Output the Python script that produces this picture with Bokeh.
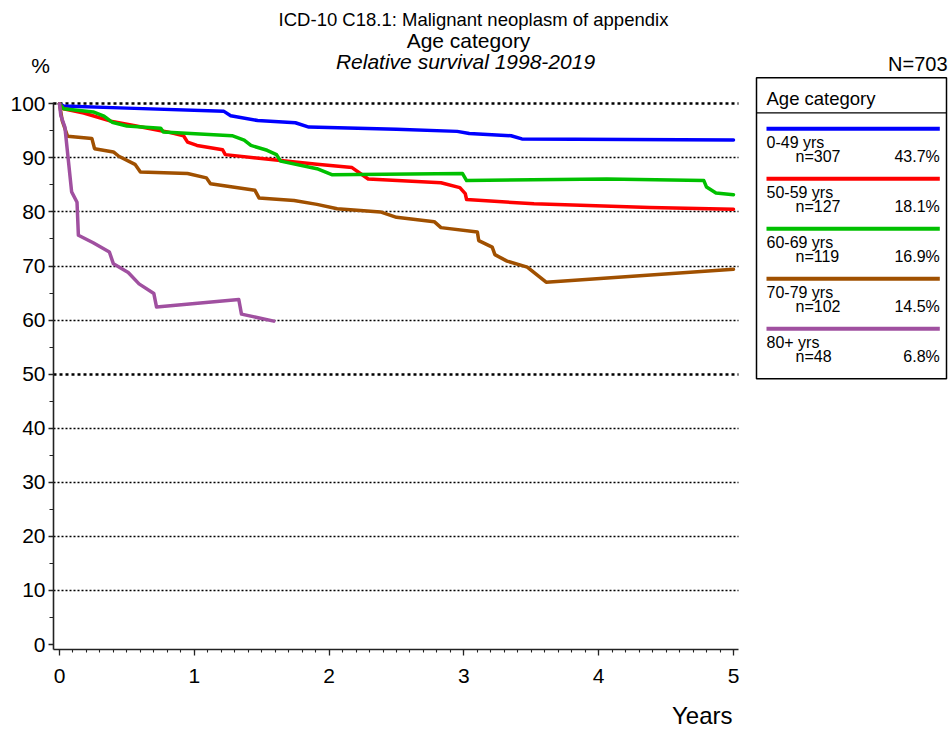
from bokeh.plotting import figure
from bokeh.models import Range1d, FixedTicker, Grid, Label
from bokeh.embed import file_html
from bokeh.resources import INLINE
from bokeh.core.properties import value

# ---------------- data ----------------
categories = ["0-49 yrs", "50-59 yrs", "60-69 yrs", "70-79 yrs", "80+ yrs"]
counts = [307, 127, 119, 102, 48]
shares = ["43.7%", "18.1%", "16.9%", "14.5%", "6.8%"]
total_n = 703
colors = ["#0000FF", "#FF0000", "#00C000", "#A05000", "#A050A0"]

x_0_49 = [0, 0.03, 0.5, 1.22, 1.27, 1.47, 1.75, 1.85, 2.5, 2.95, 3.04, 3.35, 3.43, 5.0]
y_0_49 = [100, 99.6, 99.2, 98.6, 97.8, 96.9, 96.5, 95.7, 95.3, 94.9, 94.5, 94.1, 93.5, 93.3]

x_50_59 = [0, 0.03, 0.18, 0.38, 0.55, 0.80, 0.92, 0.95, 1.02, 1.21, 1.23, 1.64, 1.91,
           2.17, 2.29, 2.83, 2.97, 3.01, 3.02, 3.52, 4.38, 5.0]
y_50_59 = [100, 99.1, 98.3, 96.8, 96.0, 94.8, 94.1, 92.9, 92.3, 91.5, 90.6, 89.5, 88.8,
           88.2, 86.1, 85.4, 84.5, 83.4, 82.3, 81.5, 80.8, 80.5]

x_60_69 = [0, 0.03, 0.25, 0.33, 0.39, 0.50, 0.75, 0.77, 1.28, 1.37, 1.42, 1.54, 1.61,
           1.64, 1.91, 2.02, 2.99, 3.02, 4.06, 4.78, 4.80, 4.87, 5.0]
y_60_69 = [100, 99.1, 98.5, 97.7, 96.6, 95.9, 95.5, 94.8, 94.1, 93.3, 92.3, 91.4, 90.6,
           89.4, 88.0, 86.9, 87.1, 85.8, 86.1, 85.8, 84.6, 83.5, 83.2]

x_70_79 = [0, 0.02, 0.06, 0.24, 0.26, 0.40, 0.44, 0.56, 0.60, 0.95, 1.09, 1.12, 1.45,
           1.48, 1.74, 1.91, 2.06, 2.38, 2.50, 2.78, 2.83, 3.10, 3.11, 3.21, 3.23, 3.32,
           3.47, 3.61, 5.0]
y_70_79 = [100, 96.9, 94.0, 93.6, 91.7, 91.1, 90.3, 88.8, 87.4, 87.1, 86.3, 85.2, 84.0,
           82.6, 82.1, 81.4, 80.6, 80.0, 79.0, 78.2, 77.1, 76.3, 74.7, 73.5, 72.1, 70.9,
           69.8, 67.0, 69.4]

x_80p = [0, 0.01, 0.04, 0.09, 0.13, 0.14, 0.25, 0.37, 0.40, 0.51, 0.59, 0.70, 0.72,
         1.33, 1.35, 1.59]
y_80p = [100, 97.8, 95.7, 83.7, 81.8, 75.7, 74.3, 72.6, 70.4, 68.8, 66.7, 64.9, 62.4,
         63.8, 61.1, 59.8]

series_x = [x_0_49, x_50_59, x_60_69, x_70_79, x_80p]
series_y = [y_0_49, y_50_59, y_60_69, y_70_79, y_80p]

x_ticks = [0, 1, 2, 3, 4, 5]
x_minor = [i / 10 for i in range(51)]
y_ticks = [0, 10, 20, 30, 40, 50, 60, 70, 80, 90, 100]
y_minor = [5, 15, 25, 35, 45, 55, 65, 75, 85, 95]
grid_thin = [10, 20, 30, 40, 60, 70, 80, 90]
grid_bold = [50, 100]

FONT = "Liberation Sans"

# ---------------- pixel <-> data mapping (layout only) ----------------
OFF = 0                      # offset of the canvas in the picture
W, H = 951, 729
X0_PX, PX_PER_YEAR = 59.0, 134.8
Y100_PX, PX_PER_PCT = 103.3, 5.407


def dx(px):
    return (px - X0_PX) / PX_PER_YEAR


def dy(py):
    return 100 - (py - Y100_PX) / PX_PER_PCT


X_LEFT, X_RIGHT = dx(53), dx(737.5)
Y_BOTTOM, Y_TOP = dy(649.4), dy(101.7)

p = figure(width=W, height=H,
           x_range=Range1d(dx(OFF), dx(OFF + W)),
           y_range=Range1d(dy(OFF + H), dy(OFF)),
           output_backend="svg", toolbar_location=None,
           min_border_left=0, min_border_right=0, min_border_top=0, min_border_bottom=0)
p.title.visible = False
p.outline_line_color = None
p.background_fill_color = "white"
p.border_fill_color = "white"

for ax in (p.xaxis[0], p.yaxis[0]):
    ax.axis_line_color = "#222222"
    ax.axis_line_width = 1.6
    ax.major_tick_line_color = "#222222"
    ax.minor_tick_line_color = "#222222"
    ax.major_tick_line_width = 1.3
    ax.minor_tick_line_width = 1.1
    ax.major_tick_in = 0
    ax.minor_tick_in = 0
    ax.major_label_text_font = FONT
    ax.major_label_text_font_size = "21px"
    ax.major_label_text_color = "black"

p.xaxis.ticker = FixedTicker(ticks=x_ticks, minor_ticks=x_minor)
p.xaxis.fixed_location = Y_BOTTOM
p.xaxis.bounds = (X_LEFT, X_RIGHT)
p.xaxis.major_tick_out = 6
p.xaxis.minor_tick_out = 3
p.xaxis.major_label_standoff = 13

p.yaxis.ticker = FixedTicker(ticks=y_ticks, minor_ticks=y_minor)
p.yaxis.fixed_location = X_LEFT
p.yaxis.bounds = (Y_BOTTOM, Y_TOP)
p.yaxis.major_tick_out = 5
p.yaxis.minor_tick_out = 4
p.yaxis.major_label_standoff = 3

p.xgrid.visible = False
p.ygrid.visible = False

has_cross = "cross_bounds" in Grid.properties()
for ticks, dash, width in ((grid_thin, "2 2", 1.4), (grid_bold, "3 3", 2.4)):
    if has_cross:
        g = Grid(dimension=1, ticker=FixedTicker(ticks=ticks), cross_bounds=(X_LEFT, X_RIGHT),
                 grid_line_color="black", grid_line_dash=dash, grid_line_width=width)
        p.add_layout(g)
    else:
        p.segment(x0=[X_LEFT] * len(ticks), x1=[X_RIGHT] * len(ticks), y0=ticks, y1=ticks,
                  line_color="black", line_dash=dash, line_width=width)

for xs, ys, c in zip(series_x, series_y, colors):
    p.line(xs, ys, line_color=c, line_width=3.5, line_join="round", line_cap="round")


def label(px, py, text, size, align="center", style="normal"):
    p.add_layout(Label(x=dx(px), y=dy(py), text=text, text_align=align,
                       text_baseline="middle", text_font=FONT,
                       text_font_size=size, text_font_style=style, text_color="black"))


label(473, 19, "ICD-10 C18.1: Malignant neoplasm of appendix", "18.5px")
label(468, 39.5, "Age category", "21px")
label(465, 60.5, "Relative survival 1998-2019", "21px", style="italic")
label(40, 65, "%", "21px")
label(732, 715, "Years", "24px", align="right")
label(947, 63, f"N={total_n}", "20px", align="right")

# ---------------- legend box ----------------
p.quad(left=[dx(756)], right=[dx(946)], top=[dy(77.3)], bottom=[dy(378.3)],
       fill_color=None, line_color="black", line_width=1.5)
p.segment(x0=[dx(756)], x1=[dx(946)], y0=[dy(112.3)], y1=[dy(112.3)],
          line_color="black", line_width=1.2)
p.text(x=[dx(766)], y=[dy(98)], text=["Age category"], text_font=value(FONT),
       text_font_size="18.5px", text_baseline="middle", text_color="black")

idx = list(range(len(categories)))
line_y = [dy(128.3 + 50 * i) for i in idx]
name_y = [dy(141.8 + 50 * i) for i in idx]
n_y = [dy(155.8 + 50 * i) for i in idx]

p.segment(x0=[dx(766)] * len(idx), x1=[dx(939.3)] * len(idx), y0=line_y, y1=line_y,
          line_color=colors, line_width=4)
p.text(x=[dx(766)] * len(idx), y=name_y, text=categories, text_font=value(FONT),
       text_font_size="16px", text_baseline="middle", text_color="black")
p.text(x=[dx(795)] * len(idx), y=n_y, text=[f"n={n}" for n in counts],
       text_font=value(FONT), text_font_size="16px", text_baseline="middle",
       text_color="black")
p.text(x=[dx(939.3)] * len(idx), y=n_y, text=shares, text_font=value(FONT),
       text_font_size="16px", text_baseline="middle", text_align="right",
       text_color="black")

open("out.html", "w").write(file_html(p, INLINE))
